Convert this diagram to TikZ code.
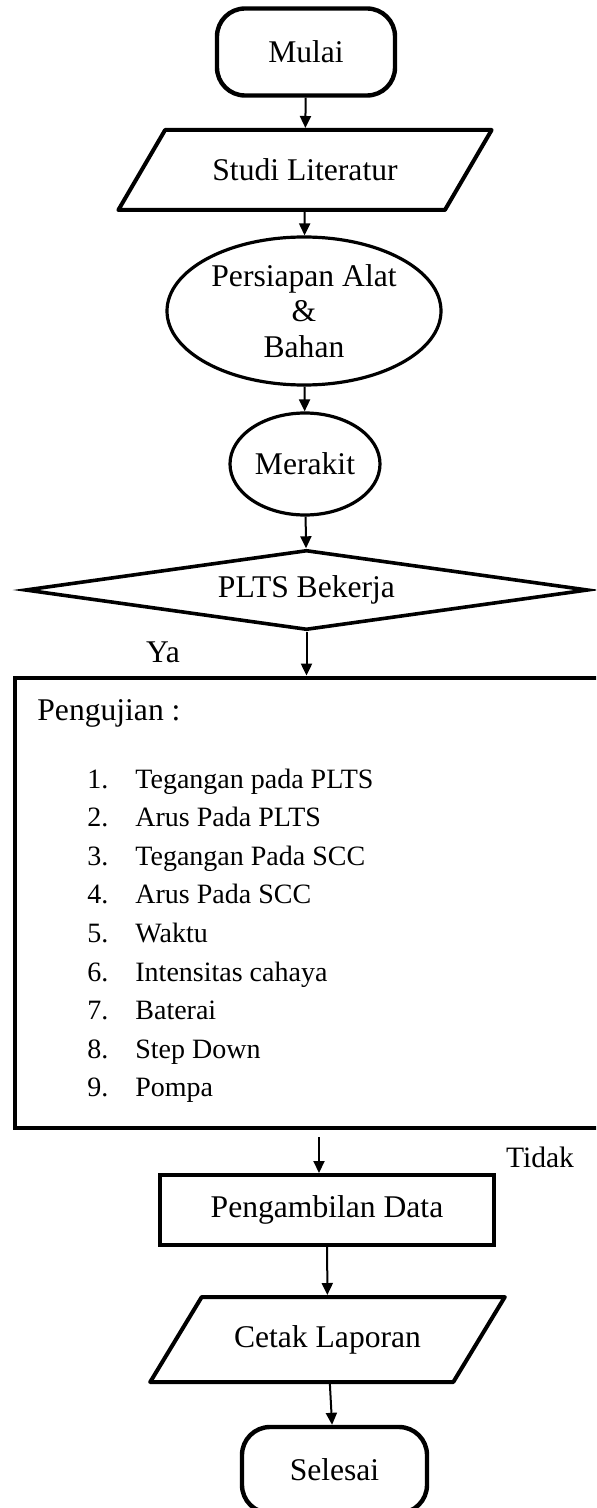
\documentclass[tikz,border=0pt]{standalone}
\usepackage{fontspec}
\setmainfont{Liberation Serif}
\usetikzlibrary{shapes.geometric,arrows.meta,positioning}

\begin{document}
\begin{tikzpicture}[x=0.5pt,y=-0.5pt,>={Triangle[length=6pt,width=5.5pt]},
  font=\fontsize{15.8}{17.75}\selectfont]
  \tikzstyle{termbox}=[draw,line width=2.2pt,rounded corners=14pt,
    minimum width=89pt,minimum height=43.5pt]
  \tikzstyle{iobox}=[draw,line width=2pt,trapezium,trapezium left angle=47,
    trapezium right angle=133,trapezium stretches=true,line join=round]
  \tikzstyle{ovalbox}=[draw,ellipse,line width=1.6pt,align=center,inner sep=0pt]
  \tikzstyle{decbox}=[draw,diamond,line width=1.8pt,aspect=7,inner sep=0pt,
    minimum width=281.5pt,minimum height=40pt]
  \tikzstyle{procbox}=[draw,line width=2pt,minimum width=167pt,minimum height=35pt]
  \tikzstyle{itemtxt}=[anchor=base west,inner sep=0pt,font=\fontsize{14}{17}\selectfont]
  \tikzstyle{flow}=[->,line width=1pt]
  \useasboundingbox (0,0) rectangle (596,1508);
  \clip (0,0) rectangle (596,1508);
  \node[termbox] (mulai) at (306,52) {Mulai};
  \node[iobox,minimum width=187pt,minimum height=40pt] (studi) at (305,170) {Studi Literatur};
  \node[ovalbox,minimum width=137pt,minimum height=74pt] (alat) at (304,311) {Persiapan Alat\\\&\\Bahan};
  \node[ovalbox,minimum width=75pt,minimum height=51pt] (rakit) at (305,464) {Merakit};
  \node[decbox] (plts) at (306.5,590) {PLTS Bekerja};
  \node (ya) at (163,652) {Ya};
  % kotak pengujian
  \node[draw,line width=2.4pt,minimum width=298.5pt,minimum height=225pt] (uji) at (313.5,903) {};
  \node[itemtxt,font=\fontsize{15.8}{17}\selectfont] (judul) at (37,720) {Pengujian :};
  \node[itemtxt] (u1) at (87,788) {\makebox[24pt][l]{1.}Tegangan pada PLTS};
  \node[itemtxt] (u2) at (87,826.6) {\makebox[24pt][l]{2.}Arus Pada PLTS};
  \node[itemtxt] (u3) at (87,865.2) {\makebox[24pt][l]{3.}Tegangan Pada SCC};
  \node[itemtxt] (u4) at (87,903.8) {\makebox[24pt][l]{4.}Arus Pada SCC};
  \node[itemtxt] (u5) at (87,942.4) {\makebox[24pt][l]{5.}Waktu};
  \node[itemtxt] (u6) at (87,981) {\makebox[24pt][l]{6.}Intensitas cahaya};
  \node[itemtxt] (u7) at (87,1019.6) {\makebox[24pt][l]{7.}Baterai};
  \node[itemtxt] (u8) at (87,1058.2) {\makebox[24pt][l]{8.}Step Down};
  \node[itemtxt] (u9) at (87,1096.8) {\makebox[24pt][l]{9.}Pompa};
  \node[procbox] (ambil) at (327,1210) {Pengambilan Data};
  \node[font=\fontsize{14.8}{17}\selectfont] (tidak) at (540,1157) {Tidak};
  \node[iobox,trapezium left angle=45.7,trapezium right angle=134.3,
    minimum width=177.5pt,minimum height=42.5pt] (cetak) at (327.5,1339.5) {Cetak Laporan};
  \node[termbox,minimum width=92.5pt,minimum height=43pt] (selesai) at (334.5,1470) {Selesai};
  \draw[flow] (mulai) -- (studi);
  \draw[flow] (studi) -- (alat);
  \draw[flow] (alat) -- (rakit);
  \draw[flow] (rakit) -- (plts);
  \draw[flow] (plts.south) -- (plts.south |- uji.north);
  \draw[flow] ([xshift=-4pt,yshift=-3.5pt]uji.south -| ambil.north) -- ([xshift=-4pt]ambil.north);
  \draw[flow] (ambil) -- (cetak);
  \draw[flow] (cetak) -- (selesai);
\end{tikzpicture}
\end{document}
